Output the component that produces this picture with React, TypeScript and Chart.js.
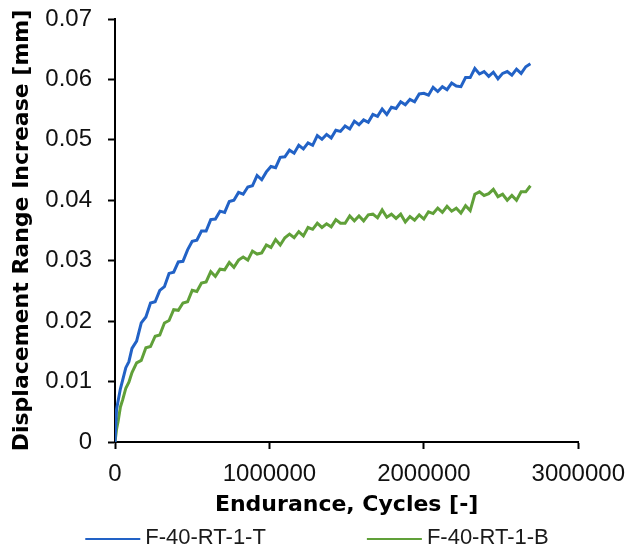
import React, { useEffect, useRef } from "react";
import { Chart, registerables } from "chart.js";

Chart.register(...registerables);

// Endurance (cycles)
const cycles = [
  0, 10000, 20000, 35000, 50000, 70000, 90000, 110000,
  140000, 170000, 200000, 230000, 260000, 290000, 320000, 350000, 380000, 410000,
  440000, 470000, 500000, 530000, 560000, 590000, 620000, 650000, 680000, 710000,
  740000, 770000, 800000, 830000, 860000, 890000, 920000, 950000, 980000, 1010000,
  1040000, 1070000, 1100000, 1130000, 1160000, 1190000, 1220000, 1250000, 1280000, 1310000,
  1340000, 1370000, 1400000, 1430000, 1460000, 1490000, 1520000, 1550000, 1580000, 1610000,
  1640000, 1670000, 1700000, 1730000, 1760000, 1790000, 1820000, 1850000, 1880000, 1910000,
  1940000, 1970000, 2000000, 2030000, 2060000, 2090000, 2120000, 2150000, 2180000, 2210000,
  2240000, 2270000, 2300000, 2330000, 2360000, 2390000, 2420000, 2450000, 2480000, 2510000,
  2540000, 2570000, 2600000, 2630000, 2660000, 2690000,
];

// F-40-RT-1-T displacement range increase [mm]
const seriesTop = [
  0, 0.0054, 0.0068, 0.0088, 0.0103, 0.0123, 0.0133, 0.0155,
  0.0167, 0.0197, 0.0207, 0.0230, 0.0232, 0.0251, 0.0257, 0.0279, 0.0281, 0.0298,
  0.0299, 0.0318, 0.0332, 0.0334, 0.0349, 0.0349, 0.0368, 0.0369, 0.0382, 0.0380,
  0.0398, 0.0400, 0.0413, 0.0410, 0.0422, 0.0424, 0.0441, 0.0434, 0.0447, 0.0456,
  0.0454, 0.0471, 0.0472, 0.0483, 0.0478, 0.0491, 0.0485, 0.0495, 0.0491, 0.0507,
  0.0501, 0.0509, 0.0503, 0.0516, 0.0514, 0.0523, 0.0518, 0.0531, 0.0525, 0.0533,
  0.0529, 0.0542, 0.0539, 0.0551, 0.0542, 0.0554, 0.0552, 0.0563, 0.0558, 0.0567,
  0.0563, 0.0576, 0.0577, 0.0574, 0.0587, 0.0580, 0.0588, 0.0583, 0.0594, 0.0589,
  0.0588, 0.0603, 0.0603, 0.0618, 0.0609, 0.0613, 0.0605, 0.0612, 0.0601, 0.0610,
  0.0613, 0.0607, 0.0617, 0.0610, 0.0621, 0.0626,
];

// F-40-RT-1-B displacement range increase [mm]
const seriesBottom = [
  0, 0.0021, 0.0034, 0.0058, 0.0070, 0.0089, 0.0099, 0.0115,
  0.0131, 0.0135, 0.0156, 0.0158, 0.0175, 0.0177, 0.0197, 0.0201, 0.0219, 0.0218,
  0.0230, 0.0232, 0.0251, 0.0249, 0.0263, 0.0265, 0.0282, 0.0274, 0.0286, 0.0285,
  0.0297, 0.0289, 0.0301, 0.0306, 0.0301, 0.0316, 0.0311, 0.0313, 0.0326, 0.0322,
  0.0335, 0.0326, 0.0338, 0.0344, 0.0338, 0.0348, 0.0341, 0.0355, 0.0352, 0.0362,
  0.0355, 0.0361, 0.0356, 0.0368, 0.0362, 0.0362, 0.0374, 0.0366, 0.0374, 0.0366,
  0.0376, 0.0377, 0.0371, 0.0384, 0.0372, 0.0377, 0.0370, 0.0377, 0.0364, 0.0373,
  0.0367, 0.0376, 0.0369, 0.0381, 0.0378, 0.0387, 0.0380, 0.0390, 0.0382, 0.0387,
  0.0379, 0.0391, 0.0383, 0.0410, 0.0414, 0.0408, 0.0411, 0.0418, 0.0406, 0.0410,
  0.0400, 0.0408, 0.0400, 0.0414, 0.0414, 0.0424,
];

const seriesNames = ["F-40-RT-1-T", "F-40-RT-1-B"];
const seriesColors = ["#2262C6", "#60A039"];
const xTickValues = [0, 1000000, 2000000, 3000000];
const yTickValues = [0, 0.01, 0.02, 0.03, 0.04, 0.05, 0.06, 0.07];

const TICK_FONT = "'Liberation Sans', Arial, sans-serif";
const TITLE_FONT = "'DejaVu Sans', sans-serif";

const legendPlugin = {
  id: "bottomLegend",
  afterDraw(chart: any) {
    const ctx = chart.ctx as CanvasRenderingContext2D;
    ctx.save();
    ctx.font = `22px ${TICK_FONT}`;
    ctx.textBaseline = "middle";
    ctx.textAlign = "left";
    const lineW = 55;
    const lineGap = 5;
    const itemGap = 101;
    const items = chart.data.datasets.map((ds: any) => ({
      label: ds.label as string,
      color: ds.borderColor as string,
      w: lineW + lineGap + ctx.measureText(ds.label).width,
    }));
    const total =
      items.reduce((s: number, it: any) => s + it.w, 0) + itemGap * (items.length - 1);
    let x = (chart.width - total) / 2 + 3;
    const yText = 538;
    const yLine = 539;
    for (const it of items) {
      ctx.strokeStyle = it.color;
      ctx.lineWidth = 2;
      ctx.beginPath();
      ctx.moveTo(x, yLine);
      ctx.lineTo(x + lineW, yLine);
      ctx.stroke();
      ctx.fillStyle = "#1a1a1a";
      ctx.fillText(it.label, x + lineW + lineGap, yText);
      x += it.w + itemGap;
    }
    ctx.restore();
  },
};

export default function App() {
  const canvasRef = useRef<HTMLCanvasElement | null>(null);

  useEffect(() => {
    if (!canvasRef.current) return;
    const datasets = [seriesTop, seriesBottom].map((vals, i) => ({
      label: seriesNames[i],
      data: cycles.map((c, j) => ({ x: c, y: vals[j] })),
      borderColor: seriesColors[i],
      backgroundColor: seriesColors[i],
      borderWidth: 3,
      pointRadius: 0,
      tension: 0,
      fill: false,
    }));

    const chart = new Chart(canvasRef.current, {
      type: "line",
      data: { datasets },
      plugins: [legendPlugin],
      options: {
        animation: false,
        responsive: false,
        maintainAspectRatio: false,
        layout: { padding: { left: 4, right: 0, top: 19, bottom: 36 } },
        plugins: {
          legend: { display: false },
          tooltip: { enabled: false },
        },
        scales: {
          x: {
            type: "linear",
            min: 0,
            max: 3000000,
            afterBuildTicks: (scale: any) => {
              scale.ticks = xTickValues.map((v) => ({ value: v }));
            },
            afterFit: (scale: any) => {
              scale.height = 80;
            },
            ticks: {
              color: "#111",
              font: { family: TICK_FONT, size: 24, lineHeight: 1.83 },
              padding: 3,
              maxRotation: 0,
              callback: (v: any) => String(v),
            },
            grid: {
              display: true,
              drawOnChartArea: false,
              drawTicks: true,
              tickLength: 7,
              tickWidth: 2,
              color: "#000",
            },
            border: { display: true, color: "#000", width: 2 },
            title: {
              display: true,
              text: "Endurance, Cycles [-]",
              color: "#000",
              font: { family: TITLE_FONT, size: 22, weight: "bold" },
              padding: { top: 0, bottom: 4 },
            },
          },
          y: {
            type: "linear",
            min: 0,
            max: 0.07,
            afterBuildTicks: (scale: any) => {
              scale.ticks = yTickValues.map((v) => ({ value: v }));
            },
            afterFit: (scale: any) => {
              scale.width = 111;
            },
            ticks: {
              color: "#111",
              font: { family: TICK_FONT, size: 24, lineHeight: 0.2 },
              padding: 16,
              callback: (v: any) => String(Math.round(v * 100) / 100),
            },
            grid: {
              display: true,
              drawOnChartArea: false,
              drawTicks: true,
              tickLength: 7,
              tickWidth: 2,
              color: "#000",
            },
            border: { display: true, color: "#000", width: 2 },
            title: {
              display: true,
              text: "Displacement Range Increase [mm]",
              color: "#000",
              font: { family: TITLE_FONT, size: 22, weight: "bold" },
              padding: { top: 5, bottom: 0 },
            },
          },
        },
      },
    } as any);

    return () => chart.destroy();
  }, []);

  return (
    <div
      style={{
        position: "fixed",
        left: 0,
        top: 0,
        width: 628,
        height: 558,
        background: "#fff",
      }}
    >
      <canvas ref={canvasRef} width={628} height={558} style={{ width: 628, height: 558 }} />
    </div>
  );
}
